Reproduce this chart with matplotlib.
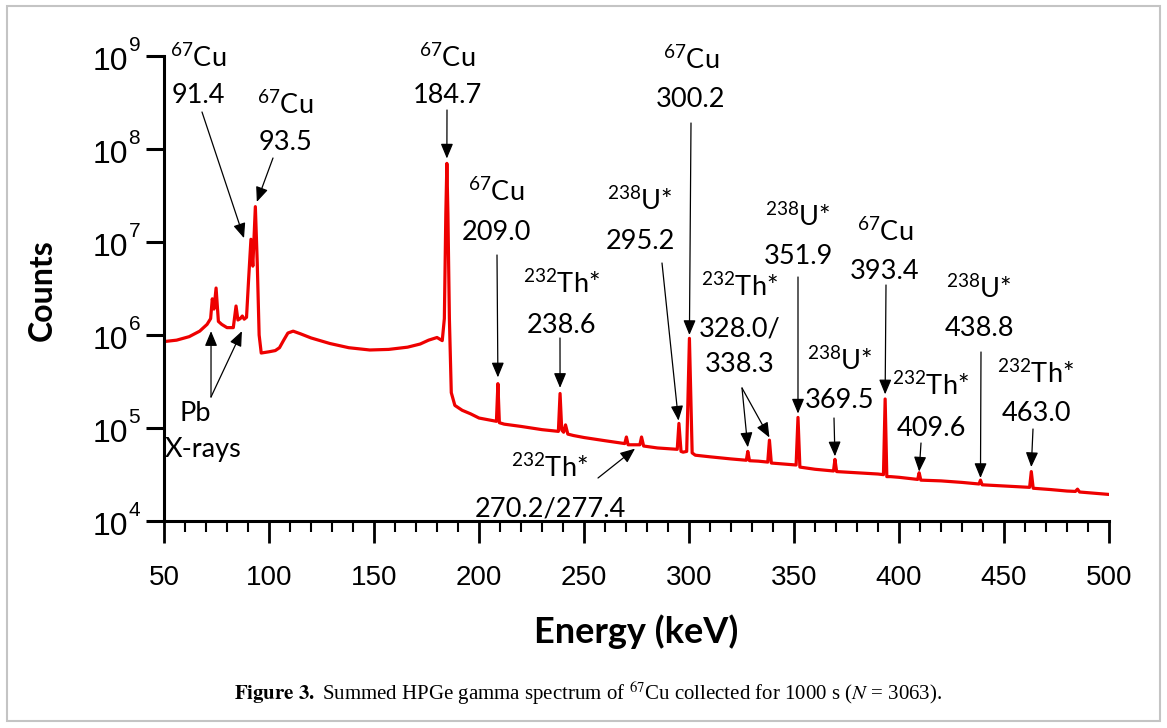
import matplotlib
matplotlib.use("Agg")
import matplotlib.pyplot as plt
from matplotlib.ticker import MultipleLocator, NullLocator, NullFormatter
from matplotlib.patches import Rectangle

# ---------------- data ----------------
energy_keV = [
    50, 56, 62, 67, 70.5, 72.2, 73.0, 73.8, 74.8, 75.9, 77.5, 80, 83,
    84.3, 85.2, 86.3, 87.3, 88.2, 89.3, 90.3, 91.4, 92.3, 93.5, 94.4, 95.3, 96.3,
    100, 103, 105, 107, 109, 111.5, 115, 120, 129, 138, 148, 157, 166, 172, 176, 180,
    182.5, 183.5, 184.2, 184.7, 185.2, 185.9, 186.8, 188.5, 192, 196, 200, 205,
    208.3, 209.0, 209.7, 212, 220, 230,
    237.8, 238.6, 239.4, 240.3, 241.2, 242.3, 245, 250, 260,
    269.4, 270.2, 271.0, 272.5, 276.6, 277.4, 278.4, 285,
    294.4, 295.2, 296.2, 297.2, 298.9, 299.7, 300.2, 300.7, 301.5, 303, 310, 320,
    327.3, 328.0, 328.8, 333, 337.5, 338.3, 339.2, 345,
    351.0, 351.9, 352.8, 360, 368.8, 369.5, 370.3, 380, 390,
    392.6, 393.4, 394.2, 396, 400, 408.9, 409.6, 410.4, 420, 430,
    438.1, 438.8, 439.6, 450, 462.2, 463.0, 463.9, 472, 480, 484, 485.0, 486, 495, 500,
]
counts = [
    8.5e5, 8.8e5, 9.6e5, 1.1e6, 1.3e6, 1.5e6, 2.45e6, 1.9e6, 3.2e6, 1.4e6, 1.3e6, 1.2e6, 1.2e6,
    2.05e6, 1.45e6, 1.5e6, 1.6e6, 1.48e6, 1.55e6, 4.0e6, 1.07e7, 5.5e6, 2.4e7, 6.0e6, 1.0e6, 6.4e5,
    6.6e5, 6.8e5, 7.3e5, 8.8e5, 1.05e6, 1.1e6, 1.03e6, 9.3e5, 8.1e5, 7.3e5, 6.9e5, 7.0e5, 7.4e5, 8.0e5, 8.8e5, 9.4e5,
    8.7e5, 1.5e6, 2.0e7, 7.0e7, 2.0e7, 1.5e6, 2.4e5, 1.75e5, 1.55e5, 1.42e5, 1.28e5, 1.22e5,
    1.18e5, 3.0e5, 1.14e5, 1.1e5, 1.04e5, 9.6e4,
    9.2e4, 2.35e5, 9.5e4, 9.0e4, 1.08e5, 8.6e4, 8.3e4, 7.9e4, 7.3e4,
    6.8e4, 8.0e4, 6.6e4, 6.6e4, 6.6e4, 8.0e4, 6.4e4, 6.1e4,
    5.9e4, 1.12e5, 5.6e4, 5.5e4, 5.6e4, 3.0e5, 9.2e5, 3.0e5, 5.4e4, 5.1e4, 4.9e4, 4.65e4,
    4.5e4, 5.6e4, 4.45e4, 4.4e4, 4.3e4, 7.4e4, 4.2e4, 4.1e4,
    4.0e4, 1.3e5, 3.8e4, 3.6e4, 3.45e4, 4.6e4, 3.4e4, 3.3e4, 3.2e4,
    3.15e4, 2.05e5, 3.0e4, 3.0e4, 2.95e4, 2.8e4, 3.3e4, 2.75e4, 2.7e4, 2.6e4,
    2.5e4, 2.75e4, 2.45e4, 2.38e4, 2.3e4, 3.4e4, 2.25e4, 2.18e4, 2.1e4, 2.08e4, 2.2e4, 2.05e4, 1.97e4, 1.93e4,
]
assert len(energy_keV) == len(counts)

x_ticks = [50, 100, 150, 200, 250, 300, 350, 400, 450, 500]
y_exponents = [4, 5, 6, 7, 8, 9]

# peak annotations
peak_isotopes = ["67", "67", "67", "67", "232", "238", "67", "232", "238", "238", "67", "232", "238", "232", "232"]
peak_symbols = ["Cu", "Cu", "Cu", "Cu", "Th*", "U*", "Cu", "Th*", "U*", "U*", "Cu", "Th*", "U*", "Th*", "Th*"]
peak_texts = [["91.4"], ["93.5"], ["184.7"], ["209.0"], ["238.6"], ["295.2"], ["300.2"],
              ["328.0/", "338.3"], ["351.9"], ["369.5"], ["393.4"], ["409.6"], ["438.8"],
              ["463.0"], ["270.2/277.4"]]
tip_energy = [[88.1], [94.2], [184.7], [209.0], [238.6], [295.0], [300.2],
              [328.0, 338.3], [351.9], [369.5], [393.4], [409.6], [438.8], [463.0], [274.3]]
tip_counts = [[1.1e7], [2.7e7], [7.9e7], [3.5e5], [2.7e5], [1.2e5], [1.0e6],
              [6.2e4, 7.9e4], [1.43e5], [4.96e4], [2.3e5], [3.4e4], [2.9e4], [3.8e4], [6.0e4]]
pb_tip_energy = [72.4, 87.1]
pb_tip_counts = [1.1e6, 1.1e6]

# ---------------- layout (figure pixels from the top-left) ----------------
W, H = 1167, 728
label_cx = [198, 285, 447, 496, 562, 640, 691, 740, 798, 840, 885, 931, 979, 1036, 550]
label_baselines = [[67, 103], [114, 150], [67, 103], [201, 240], [293, 333], [210, 249],
                   [69, 107], [296, 336, 372], [226, 264], [370, 408], [241, 279],
                   [395, 436], [298, 336], [383, 421], [477, 516]]
arrow_start = [(202, 112), (273, 158), (447, 110), (497, 255), (560, 338), (662, 263),
               (691, 123), (742, 388), (798, 277), (834, 418), (886, 285), (921, 443),
               (981, 352), (1033, 429), (598, 478)]

plt.rcParams["mathtext.fontset"] = "custom"
plt.rcParams["mathtext.rm"] = "Lato"
plt.rcParams["mathtext.it"] = "Lato:italic"
plt.rcParams["mathtext.bf"] = "Lato:bold"

fig = plt.figure(figsize=(W / 100, H / 100), dpi=100)
ax = fig.add_axes([164 / W, 1 - 521 / H, (1109 - 164) / W, (521 - 56) / H])

ax.semilogy(energy_keV, counts, color="#ee0000", lw=2.3, solid_joinstyle="round")
ax.set_xlim(50, 500)
ax.set_ylim(1e4, 1e9)

for s in ["top", "right"]:
    ax.spines[s].set_visible(False)
for s in ["left", "bottom"]:
    ax.spines[s].set_linewidth(2.2)

ax.set_xticks(x_ticks)
ax.set_xticklabels([str(t) for t in x_ticks], fontsize=20, family="Liberation Sans")
ax.xaxis.set_minor_locator(MultipleLocator(10))
ax.tick_params(axis="x", which="major", direction="out", length=16, width=2, pad=16)
ax.tick_params(axis="x", which="minor", direction="out", length=8, width=1.5)

ax.set_yticks([10.0 ** k for k in y_exponents])
ax.yaxis.set_minor_locator(NullLocator())
ax.yaxis.set_major_formatter(NullFormatter())
ax.tick_params(axis="y", which="major", direction="out", length=13, width=2.2)
for k in y_exponents:
    ax.annotate("10", xy=(0, 10.0 ** k), xycoords=("axes fraction", "data"),
                xytext=(-26, -4.5), textcoords="offset points", ha="right", va="center",
                fontsize=23, family="Liberation Sans", annotation_clip=False)
    ax.annotate(str(k), xy=(0, 10.0 ** k), xycoords=("axes fraction", "data"),
                xytext=(-25.5, 7.5), textcoords="offset points", ha="left", va="center",
                fontsize=15, family="Liberation Sans", annotation_clip=False)

arrow_kw = dict(arrowstyle="-|>,head_length=0.6,head_width=0.25", color="black", lw=0.9,
                shrinkA=0, shrinkB=0, mutation_scale=15)

for i in range(len(peak_isotopes)):
    lines = [r"$^{%s}$%s" % (peak_isotopes[i], peak_symbols[i])] + peak_texts[i]
    for txt, yb in zip(lines, label_baselines[i]):
        fig.text(label_cx[i] / W, 1 - yb / H, txt, ha="center", va="baseline",
                 fontsize=19.5, family="Lato")
    sx, sy = arrow_start[i]
    for te, tc in zip(tip_energy[i], tip_counts[i]):
        ax.annotate("", xy=(te, tc), xycoords="data", xytext=(sx, H - sy),
                    textcoords="figure pixels", arrowprops=arrow_kw)

# Pb X-rays
fig.text(195 / W, 1 - 421 / H, "Pb", ha="center", va="baseline", fontsize=19.5, family="Lato")
fig.text(203 / W, 1 - 457 / H, "X-rays", ha="center", va="baseline", fontsize=19.5, family="Lato")
for te, tc in zip(pb_tip_energy, pb_tip_counts):
    ax.annotate("", xy=(te, tc), xycoords="data", xytext=(211, H - 397),
                textcoords="figure pixels", arrowprops=arrow_kw)

# axis labels
fig.text(42 / W, 1 - 290 / H, "Counts", rotation=90, ha="center", va="center",
         fontsize=23, fontweight="bold", family="Lato")
fig.text(636 / W, 1 - 632 / H, "Energy (keV)", ha="center", va="center",
         fontsize=26, fontweight="bold", family="Lato")

# caption
fig.text(588 / W, 1 - 693 / H,
         r"$\mathbf{Figure\ 3.}$ Summed HPGe gamma spectrum of $^{67}$Cu collected for 1000 s ($N$ = 3063).",
         ha="center", va="center", fontsize=15, family="Liberation Serif", math_fontfamily="stix")

# outer frame
fig.patches.append(Rectangle((7 / W, 7 / H), (1160 - 7) / W, (721 - 6) / H,
                             transform=fig.transFigure, fill=False,
                             edgecolor="#c4c4c4", lw=1.5))

fig.savefig("out.png", dpi=100)
